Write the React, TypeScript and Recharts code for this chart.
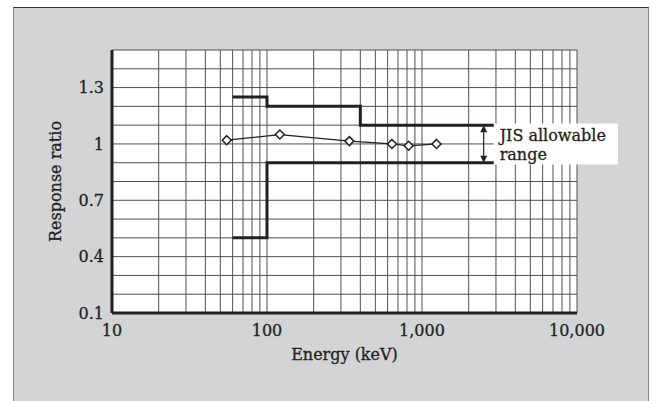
import React from "react";
import { LineChart, Line, XAxis, YAxis, CartesianGrid, ReferenceArea, ReferenceLine } from "recharts";

// measured response (diamonds)
const measuredEnergy = [55, 121, 340, 640, 820, 1240];
const measuredRatio = [1.02, 1.05, 1.015, 1.0, 0.99, 1.0];

// JIS allowable range limits (step lines)
const upperEnergy = [60, 100, 400, 2900];
const upperRatio = [1.25, 1.2, 1.1, 1.1];
const lowerEnergy = [60, 100, 2900];
const lowerRatio = [0.5, 0.9, 0.9];

const xTicks = [10, 100, 1000, 10000];
const yTicks = [0.1, 0.4, 0.7, 1, 1.3];
const xGrid = [20, 30, 40, 50, 60, 70, 80, 90, 100, 200, 300, 400, 500, 600, 700, 800, 900, 1000, 2000, 3000, 4000, 5000, 6000, 7000, 8000, 9000, 10000];
const yGrid = [0.2, 0.3, 0.4, 0.5, 0.6, 0.7, 0.8, 0.9, 1.0, 1.1, 1.2, 1.3, 1.4, 1.5];

const measured = measuredEnergy.map((e, i) => ({ e, v: measuredRatio[i] }));
const upper = upperEnergy.map((e, i) => ({ e, v: upperRatio[i] }));
const lower = lowerEnergy.map((e, i) => ({ e, v: lowerRatio[i] }));

const INK = "#231f20";
const FONT = "'DejaVu Serif', serif";
// a touch of stroke so the text reads as heavy as the printed original
const TEXT = { fontSize: 16, fill: INK, fontFamily: FONT, stroke: INK, strokeWidth: 0.3 };

function Diamond({ cx, cy }: any) {
    if (cx == null || cy == null) return null;
    const r = 4.5;
    return (
        <path
            d={`M${cx},${cy - r} L${cx + r},${cy} L${cx},${cy + r} L${cx - r},${cy} Z`}
            fill="#fff" stroke={INK} strokeWidth={1.5}
        />
    );
}

function RangeLabel({ viewBox }: any) {
    if (!viewBox) return null;
    const { x, y } = viewBox;
    return (
        <g fontFamily={FONT} fontSize={16} fill={INK} stroke={INK} strokeWidth={0.3}>
            <text x={x + 6} y={y + 18}>JIS allowable</text>
            <text x={x + 6} y={y + 37}>range</text>
        </g>
    );
}

function ArrowShape(props: any) {
    const { x1, y1, x2, y2 } = props;
    return <line x1={x1} y1={y1} x2={x2} y2={y2} stroke={INK} strokeWidth={1.2} markerStart="url(#ah)" markerEnd="url(#ah)" />;
}

export default function App() {
    return (
        <div style={{ position: "absolute", left: 0, top: 0, width: 652, height: 401, overflow: "hidden", fontFamily: FONT }}>
            <div style={{ position: "absolute", left: 13, top: 7, width: 634, height: 400, background: "#d3d4d6", borderTop: "1px solid #333", borderLeft: "1px solid #8a8a8a", borderRight: "1px solid #8a8a8a" }} />
            <LineChart
                width={652} height={401}
                style={{ position: "absolute", left: 0, top: 0 }}
                margin={{ top: 50, right: 75, left: 52, bottom: 38 }}
            >
                <defs>
                    <marker id="ah" viewBox="0 0 10 10" refX="10" refY="5" markerUnits="userSpaceOnUse" markerWidth="11" markerHeight="7" orient="auto-start-reverse">
                        <path d="M0,0 L10,5 L0,10 Z" fill={INK} />
                    </marker>
                </defs>
                <CartesianGrid
                    fill="#fff" stroke="#505050" strokeWidth={1}
                    horizontalValues={yGrid} verticalValues={xGrid}
                />
                <XAxis
                    type="number" dataKey="e" scale="log" domain={[10, 10000]} allowDataOverflow
                    ticks={xTicks} interval={0}
                    tickFormatter={(v: number) => v.toLocaleString("en-US")}
                    axisLine={{ stroke: INK, strokeWidth: 3 }} tickLine={false}
                    tick={TEXT}
                    tickMargin={6} height={50}
                    label={{ value: "Energy (keV)", position: "insideBottom", offset: 3, ...TEXT }}
                />
                <YAxis
                    type="number" dataKey="v" domain={[0.1, 1.5]} allowDataOverflow
                    ticks={yTicks} interval={0}
                    tickFormatter={(v: number) => (v === 1 ? "1" : v.toFixed(1))}
                    axisLine={{ stroke: INK, strokeWidth: 3 }} tickLine={false}
                    tick={TEXT}
                    tickMargin={2} width={60}
                    label={{ value: "Response ratio", angle: -90, position: "insideLeft", offset: 3, ...TEXT, style: { textAnchor: "middle" } }}
                />
                <ReferenceArea
                    x1={2900} x2={18400} y1={0.891} y2={1.109}
                    fill="#fff" fillOpacity={1} stroke="none" ifOverflow="visible"
                    label={<RangeLabel />}
                />
                <ReferenceLine
                    segment={[{ x: 2500, y: 0.9 }, { x: 2500, y: 1.1 }]}
                    ifOverflow="visible" shape={<ArrowShape />}
                />
                <Line data={upper} dataKey="v" type="stepAfter" stroke={INK} strokeWidth={3} dot={false} isAnimationActive={false} />
                <Line data={lower} dataKey="v" type="stepAfter" stroke={INK} strokeWidth={3} dot={false} isAnimationActive={false} />
                <Line data={measured} dataKey="v" type="linear" stroke={INK} strokeWidth={1.2} dot={<Diamond />} isAnimationActive={false} />
            </LineChart>
        </div>
    );
}
